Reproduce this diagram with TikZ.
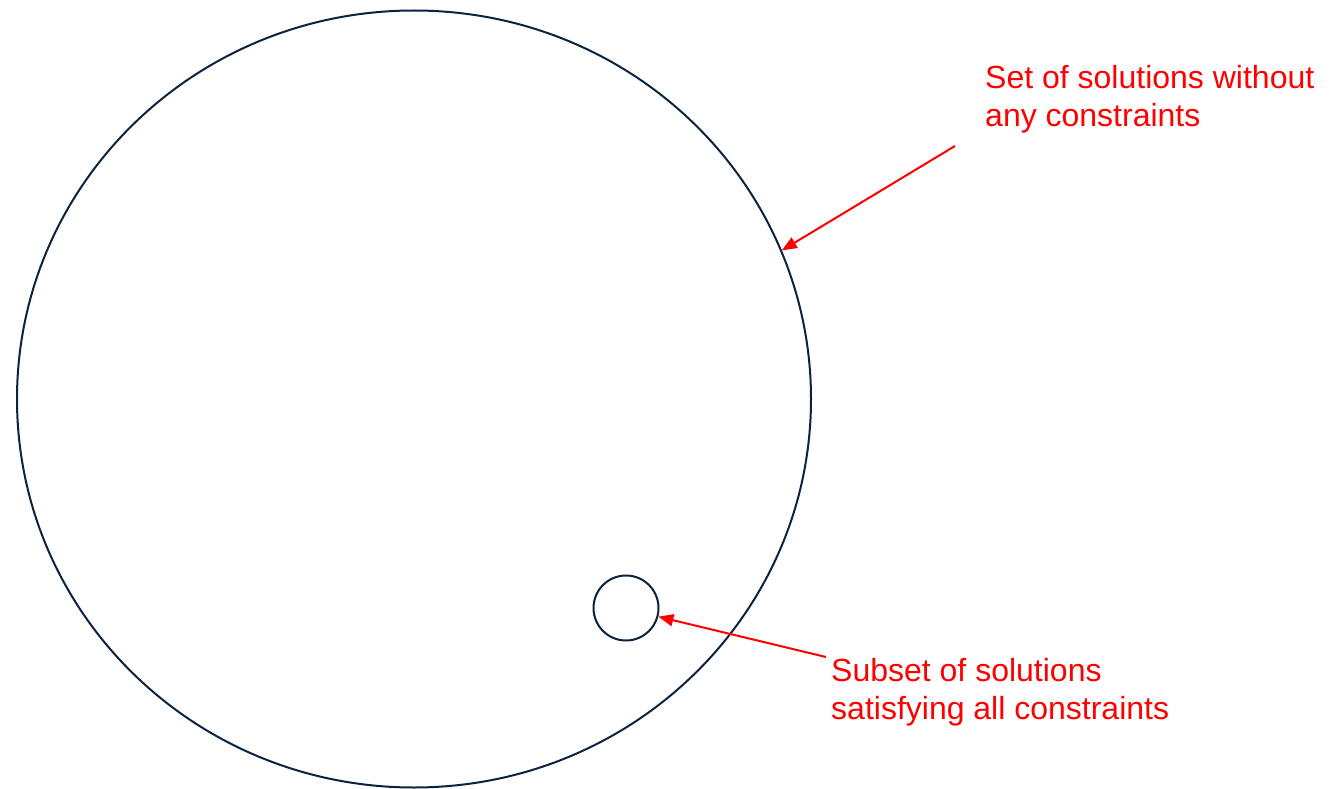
\documentclass[tikz,border=0pt]{standalone}
\usepackage{fontspec}
\setmainfont{Liberation Sans}
\usetikzlibrary{arrows.meta,shapes.geometric}
\definecolor{navy}{RGB}{12,35,64}
\definecolor{lblred}{RGB}{255,0,0}
\tikzset{
  setshape/.style={draw=navy,line width=2pt,inner sep=0pt},
  pointer/.style={draw=lblred,line width=2pt,-{Triangle[length=15pt,width=12pt]}},
  label/.style={text=lblred,font=\fontsize{32}{38}\selectfont,align=left,inner sep=0pt,anchor=base west}
}
\begin{document}
\begin{tikzpicture}[x=1pt,y=-1pt]
\useasboundingbox (0,0) rectangle (1331,789);
\node[setshape,ellipse,minimum width=794pt,minimum height=777pt] (big) at (414,399) {};
\node[setshape,circle,minimum size=65pt] (small) at (626,608) {};
\node[label] (t1) at (985,127) {Set of solutions without\\any constraints};
\node[label] (t2) at (831,719) {Subset of solutions\\satisfying all constraints};
\coordinate (a1) at (955,146);
\coordinate (a2) at (826,657);
\draw[pointer] (a1) -- (big.22.6);
\draw[pointer] (a2) -- (small.-15);
\end{tikzpicture}
\end{document}
